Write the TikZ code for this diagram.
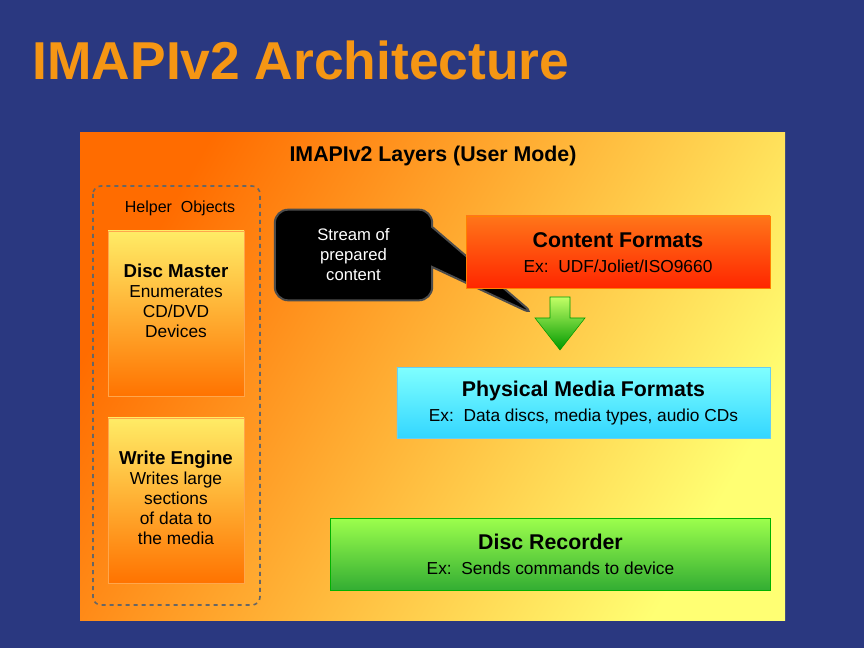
\documentclass[tikz,border=0pt]{standalone}
\usepackage{fontspec}
\setmainfont{Liberation Sans}
\usetikzlibrary{positioning, shapes, shadings}
\definecolor{bgblue}{RGB}{42,56,128}
\definecolor{ttlorange}{RGB}{245,150,20}
\tikzstyle{helper} = [rectangle, draw=orange!70!white, top color=orange!25!yellow!60!white, bottom color=orange!90!red, minimum width=102pt, minimum height=124pt]
\tikzstyle{layer} = [rectangle, align=center, font=\fontsize{13}{15}\selectfont]
\tikzstyle{ttl} = [font=\bfseries\fontsize{16}{18}\selectfont]
\begin{document}
\begin{tikzpicture}[x=0.75pt,y=-0.75pt]
\useasboundingbox (0,0) rectangle (864,648);
\fill[bgblue] (0,0) rectangle (864,648);
% title
\node (title) [anchor=west, text=ttlorange, font=\bfseries\fontsize{40}{44}\selectfont] at (28,60) {IMAPIv2 Architecture};
% main panel
\shade[left color=orange!85!red, right color=yellow!55!white, shading angle=60] (80,133) rectangle (785,620);
\node (layers) [font=\bfseries\fontsize{16}{18}\selectfont] at (433,156) {IMAPIv2 Layers (User Mode)};
% helper objects
\draw[dashed, very thick, rounded corners=6pt, draw=black!60] (93,186) rectangle (260,605);
\node (helpers) [font=\fontsize{12}{14}\selectfont] at (180,208) {Helper\ \ Objects};
\node (master) [helper] at (176,313.5) {};
\node (mastertxt) [align=center, font=\fontsize{13}{15}\selectfont, anchor=north] at (176,259) {{\bfseries\fontsize{14}{16}\selectfont Disc Master}\\Enumerates\\CD/DVD\\Devices};
\node (engine) [helper] at (176,500.5) {};
\node (enginetxt) [align=center, font=\fontsize{13}{15}\selectfont, anchor=north] at (176,446) {{\bfseries\fontsize{14}{16}\selectfont Write Engine}\\Writes large\\sections\\of data to\\the media};
% callout
\node (stream) [shape=rectangle callout, rounded corners=10pt, fill=black, draw=black!70, line width=1.5pt, text=white, align=center, minimum width=118pt, minimum height=68pt, callout absolute pointer={(535,315)}, callout pointer width=30pt, font=\fontsize{12.5}{15}\selectfont] at (353.5,255) {Stream of\\prepared\\content};
% layers
\node (content) [layer, minimum width=228pt, minimum height=54pt, top color=orange!80!red!90, bottom color=red!70!orange, draw=orange] at (618,252) {};
\node at (618,240) [ttl] {Content Formats};
\node at (618,266) [font=\fontsize{13}{15}\selectfont] {Ex:\ \ UDF/Joliet/ISO9660};
\node (physical) [layer, minimum width=280pt, minimum height=53pt, top color=cyan!50!white, bottom color=cyan!80!blue!80, draw=cyan!60] at (583.5,402.5) {};
\node at (583.5,391) [ttl] {Physical Media Formats};
\node at (583.5,417) [font=\fontsize{13}{15}\selectfont] {Ex:\ \ Data discs, media types, audio CDs};
\node (recorder) [layer, minimum width=330pt, minimum height=54pt, top color=green!55!yellow!70!white, bottom color=green!60!black!80, draw=green!70!black] at (550.5,554) {};
\node at (550.5,542) [ttl] {Disc Recorder};
\node at (550.5,568) [font=\fontsize{13}{15}\selectfont] {Ex:\ \ Sends commands to device};
% green arrow
\shade[top color=green!40!yellow!60!white, bottom color=green!60!black, draw=green!60!black]
  (550,297) -- (570,297) -- (570,318) -- (585,318) -- (560,350) -- (535,318) -- (550,318) -- cycle;
\end{tikzpicture}
\end{document}
